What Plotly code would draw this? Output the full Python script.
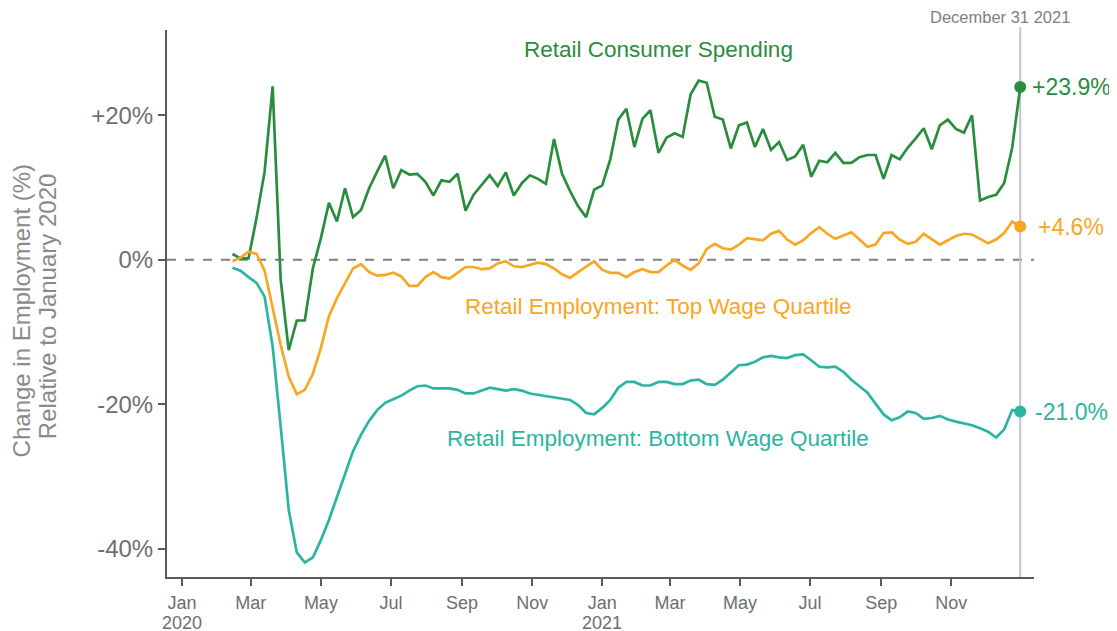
import pandas as pd
import plotly.graph_objects as go

# ---------------- data ----------------
dates = pd.date_range(end="2021-12-31", periods=99, freq="7D")

spending = [0.8, 0.2, 0.2, 5.8, 12.2, 24.0, -2.8, -12.5, -8.4, -8.4,
            -1.2, 3.0, 7.9, 5.3, 9.9, 5.9, 6.9, 9.9, 12.2, 14.4,
            9.9, 12.4, 11.8, 11.9, 10.8, 8.9, 11.0, 10.8, 11.9, 6.8,
            9.0, 10.4, 11.7, 10.2, 12.1, 8.9, 10.6, 11.7, 11.2, 10.5,
            16.7, 11.9, 9.5, 7.4, 5.9, 9.7, 10.3, 13.9, 19.4, 20.9,
            15.6, 19.5, 20.7, 14.8, 16.9, 17.5, 17.0, 22.9, 24.8, 24.5,
            19.8, 19.4, 15.4, 18.6, 19.0, 15.6, 18.1, 15.2, 16.3, 13.8,
            14.3, 15.9, 11.5, 13.7, 13.5, 14.8, 13.4, 13.4, 14.2, 14.5,
            14.5, 11.2, 14.5, 13.9, 15.5, 16.8, 18.2, 15.3, 18.6, 19.4,
            18.1, 17.6, 20.0, 8.2, 8.7, 9.0, 10.6, 15.5, 23.9]

top_quartile = [-0.2, 0.3, 1.1, 0.8, -1.5, -6.5, -11.8, -16.2, -18.6, -18.0,
                -15.8, -12.2, -7.8, -5.3, -3.2, -1.2, -0.6, -1.7, -2.2, -2.1,
                -1.8, -2.3, -3.6, -3.6, -2.4, -1.7, -2.4, -2.6, -1.8, -1.0,
                -1.0, -1.3, -1.2, -0.5, -0.2, -0.9, -1.0, -0.7, -0.4, -0.6,
                -1.2, -2.0, -2.5, -1.7, -1.0, -0.2, -1.4, -1.8, -1.8, -2.4,
                -1.7, -1.3, -1.7, -1.7, -0.8, 0.0, -0.8, -1.4, -0.5, 1.5,
                2.2, 1.6, 1.4, 2.1, 3.0, 2.8, 2.7, 3.6, 4.0, 2.8,
                2.1, 2.7, 3.7, 4.5, 3.6, 2.9, 3.4, 3.8, 2.8, 1.8,
                2.1, 3.7, 3.8, 2.8, 2.2, 2.5, 3.6, 2.8, 2.1, 2.7,
                3.3, 3.6, 3.5, 2.9, 2.3, 2.8, 3.7, 5.3, 4.6]

bottom_quartile = [-1.1, -1.5, -2.4, -3.2, -5.1, -12.0, -23.1, -34.6, -40.5, -41.9,
                   -41.2, -38.8, -36.0, -32.9, -29.5, -26.5, -24.2, -22.3, -20.8, -19.8,
                   -19.3, -18.8, -18.1, -17.5, -17.4, -17.8, -17.8, -17.8, -18.0, -18.5,
                   -18.5, -18.1, -17.7, -17.9, -18.1, -17.9, -18.1, -18.5, -18.7, -18.8,
                   -19.1, -19.3, -19.4, -20.1, -21.2, -21.4, -20.5, -19.4, -17.7, -16.9,
                   -16.9, -17.4, -17.4, -16.9, -16.9, -17.2, -17.2, -16.7, -16.6, -17.2,
                   -17.3, -16.6, -15.6, -14.6, -14.5, -14.1, -13.5, -13.3, -13.5, -13.6,
                   -13.2, -13.1, -13.9, -14.8, -14.9, -14.8, -15.5, -16.6, -17.5, -18.4,
                   -19.9, -21.4, -22.2, -21.8, -21.0, -21.2, -22.0, -21.9, -21.6, -22.1,
                   -22.4, -22.6, -22.9, -23.3, -23.8, -24.6, -23.5, -20.8, -21.0]

series_names = ["Retail Consumer Spending",
                "Retail Employment: Top Wage Quartile",
                "Retail Employment: Bottom Wage Quartile"]
series_colors = ["#2a8d3e", "#f9a623", "#2bb5a1"]
end_labels = ["+23.9%", "+4.6%", "-21.0%"]
end_label_shift = [10, 16, 13]

x_tick_vals = ["2020-01-01", "2020-03-01", "2020-05-01", "2020-07-01", "2020-09-01",
               "2020-11-01", "2021-01-01", "2021-03-01", "2021-05-01", "2021-07-01",
               "2021-09-01", "2021-11-01"]
x_tick_text = ["Jan", "Mar", "May", "Jul", "Sep", "Nov",
               "Jan", "Mar", "May", "Jul", "Sep", "Nov"]
year_tick_vals = ["2020-01-01", "2021-01-01"]
year_tick_text = ["2020", "2021"]
y_tick_vals = [-40, -20, 0, 20]
y_tick_text = ["-40%", "-20%", "0%", "+20%"]

y_title_lines = ["Change in Employment (%)", "Relative to January 2020"]

end_date = "2021-12-31"
# label positions (date, value) for series names
name_label_pos = [("2021-02-19", 29.1), ("2021-02-19", -6.5), ("2021-02-19", -24.8)]

# ---------------- figure ----------------
fig = go.Figure()
all_series = [spending, top_quartile, bottom_quartile]

# zero reference line
fig.add_shape(type="line", xref="paper", yref="y", x0=0, x1=1, y0=0, y1=0,
              line=dict(color="#808080", width=2, dash="dash"), layer="below")
# date marker line
fig.add_shape(type="line", xref="x", yref="paper", x0=end_date, x1=end_date,
              y0=0, y1=1.005, line=dict(color="#c4c4c4", width=2), layer="below")

for vals, name, col, lab, sh in zip(all_series, series_names, series_colors,
                                    end_labels, end_label_shift):
    fig.add_trace(go.Scatter(x=dates, y=vals, mode="lines", name=name,
                             line=dict(color=col, width=2.7), showlegend=False))
    fig.add_trace(go.Scatter(x=[dates[-1]], y=[vals[-1]], mode="markers",
                             marker=dict(color=col, size=12), showlegend=False))
    fig.add_annotation(x=dates[-1], y=vals[-1], text=lab, showarrow=False,
                       xanchor="left", yanchor="middle", xshift=sh,
                       font=dict(size=23, color=col))

for (d, v), name, col in zip(name_label_pos, series_names, series_colors):
    fig.add_annotation(x=d, y=v, text=name, showarrow=False,
                       xanchor="center", yanchor="middle",
                       font=dict(size=22.5, color=col))

for d, t in zip(year_tick_vals, year_tick_text):
    fig.add_annotation(x=d, y=0, xref="x", yref="paper", yanchor="top",
                       yshift=-34, text=t, showarrow=False,
                       font=dict(size=18, color="#6e6e6e"))

fig.add_annotation(x=end_date, y=1.0, xref="x", yref="paper", yanchor="bottom",
                   yshift=2, xshift=-20, text="December 31 2021", showarrow=False,
                   font=dict(size=16.5, color="#808080"))

for txt, xp, yp in zip(y_title_lines, [-0.1675, -0.1385], [0.487, 0.495]):
    fig.add_annotation(xref="paper", yref="paper", x=xp, y=yp, textangle=-90,
                       text=txt, showarrow=False, xanchor="center", yanchor="middle",
                       font=dict(size=24, color="#8a8a8a"))

fig.update_layout(
    width=1117, height=631,
    margin=dict(l=159, r=91, t=22, b=62),
    plot_bgcolor="white", paper_bgcolor="white",
    font=dict(family="Liberation Sans, Arial, sans-serif", color="#6e6e6e"),
    xaxis=dict(range=["2019-12-19", "2022-01-12"], showgrid=False, zeroline=False,
               showline=True, linecolor="#5a5a5a", linewidth=2, automargin=False,
               ticks="outside", ticklen=7, tickwidth=1.5, tickcolor="#5a5a5a",
               ticklabelstandoff=1,
               tickvals=x_tick_vals, ticktext=x_tick_text,
               tickfont=dict(size=18, color="#6e6e6e")),
    yaxis=dict(range=[-43.9, 31.8], showgrid=False, zeroline=False,
               showline=True, linecolor="#5a5a5a", linewidth=2, automargin=False,
               ticks="outside", ticklen=7, tickwidth=1.5, tickcolor="#5a5a5a",
               tickvals=y_tick_vals, ticktext=y_tick_text,
               tickfont=dict(size=24, color="#6e6e6e")),
)

fig.write_html("out.html")
